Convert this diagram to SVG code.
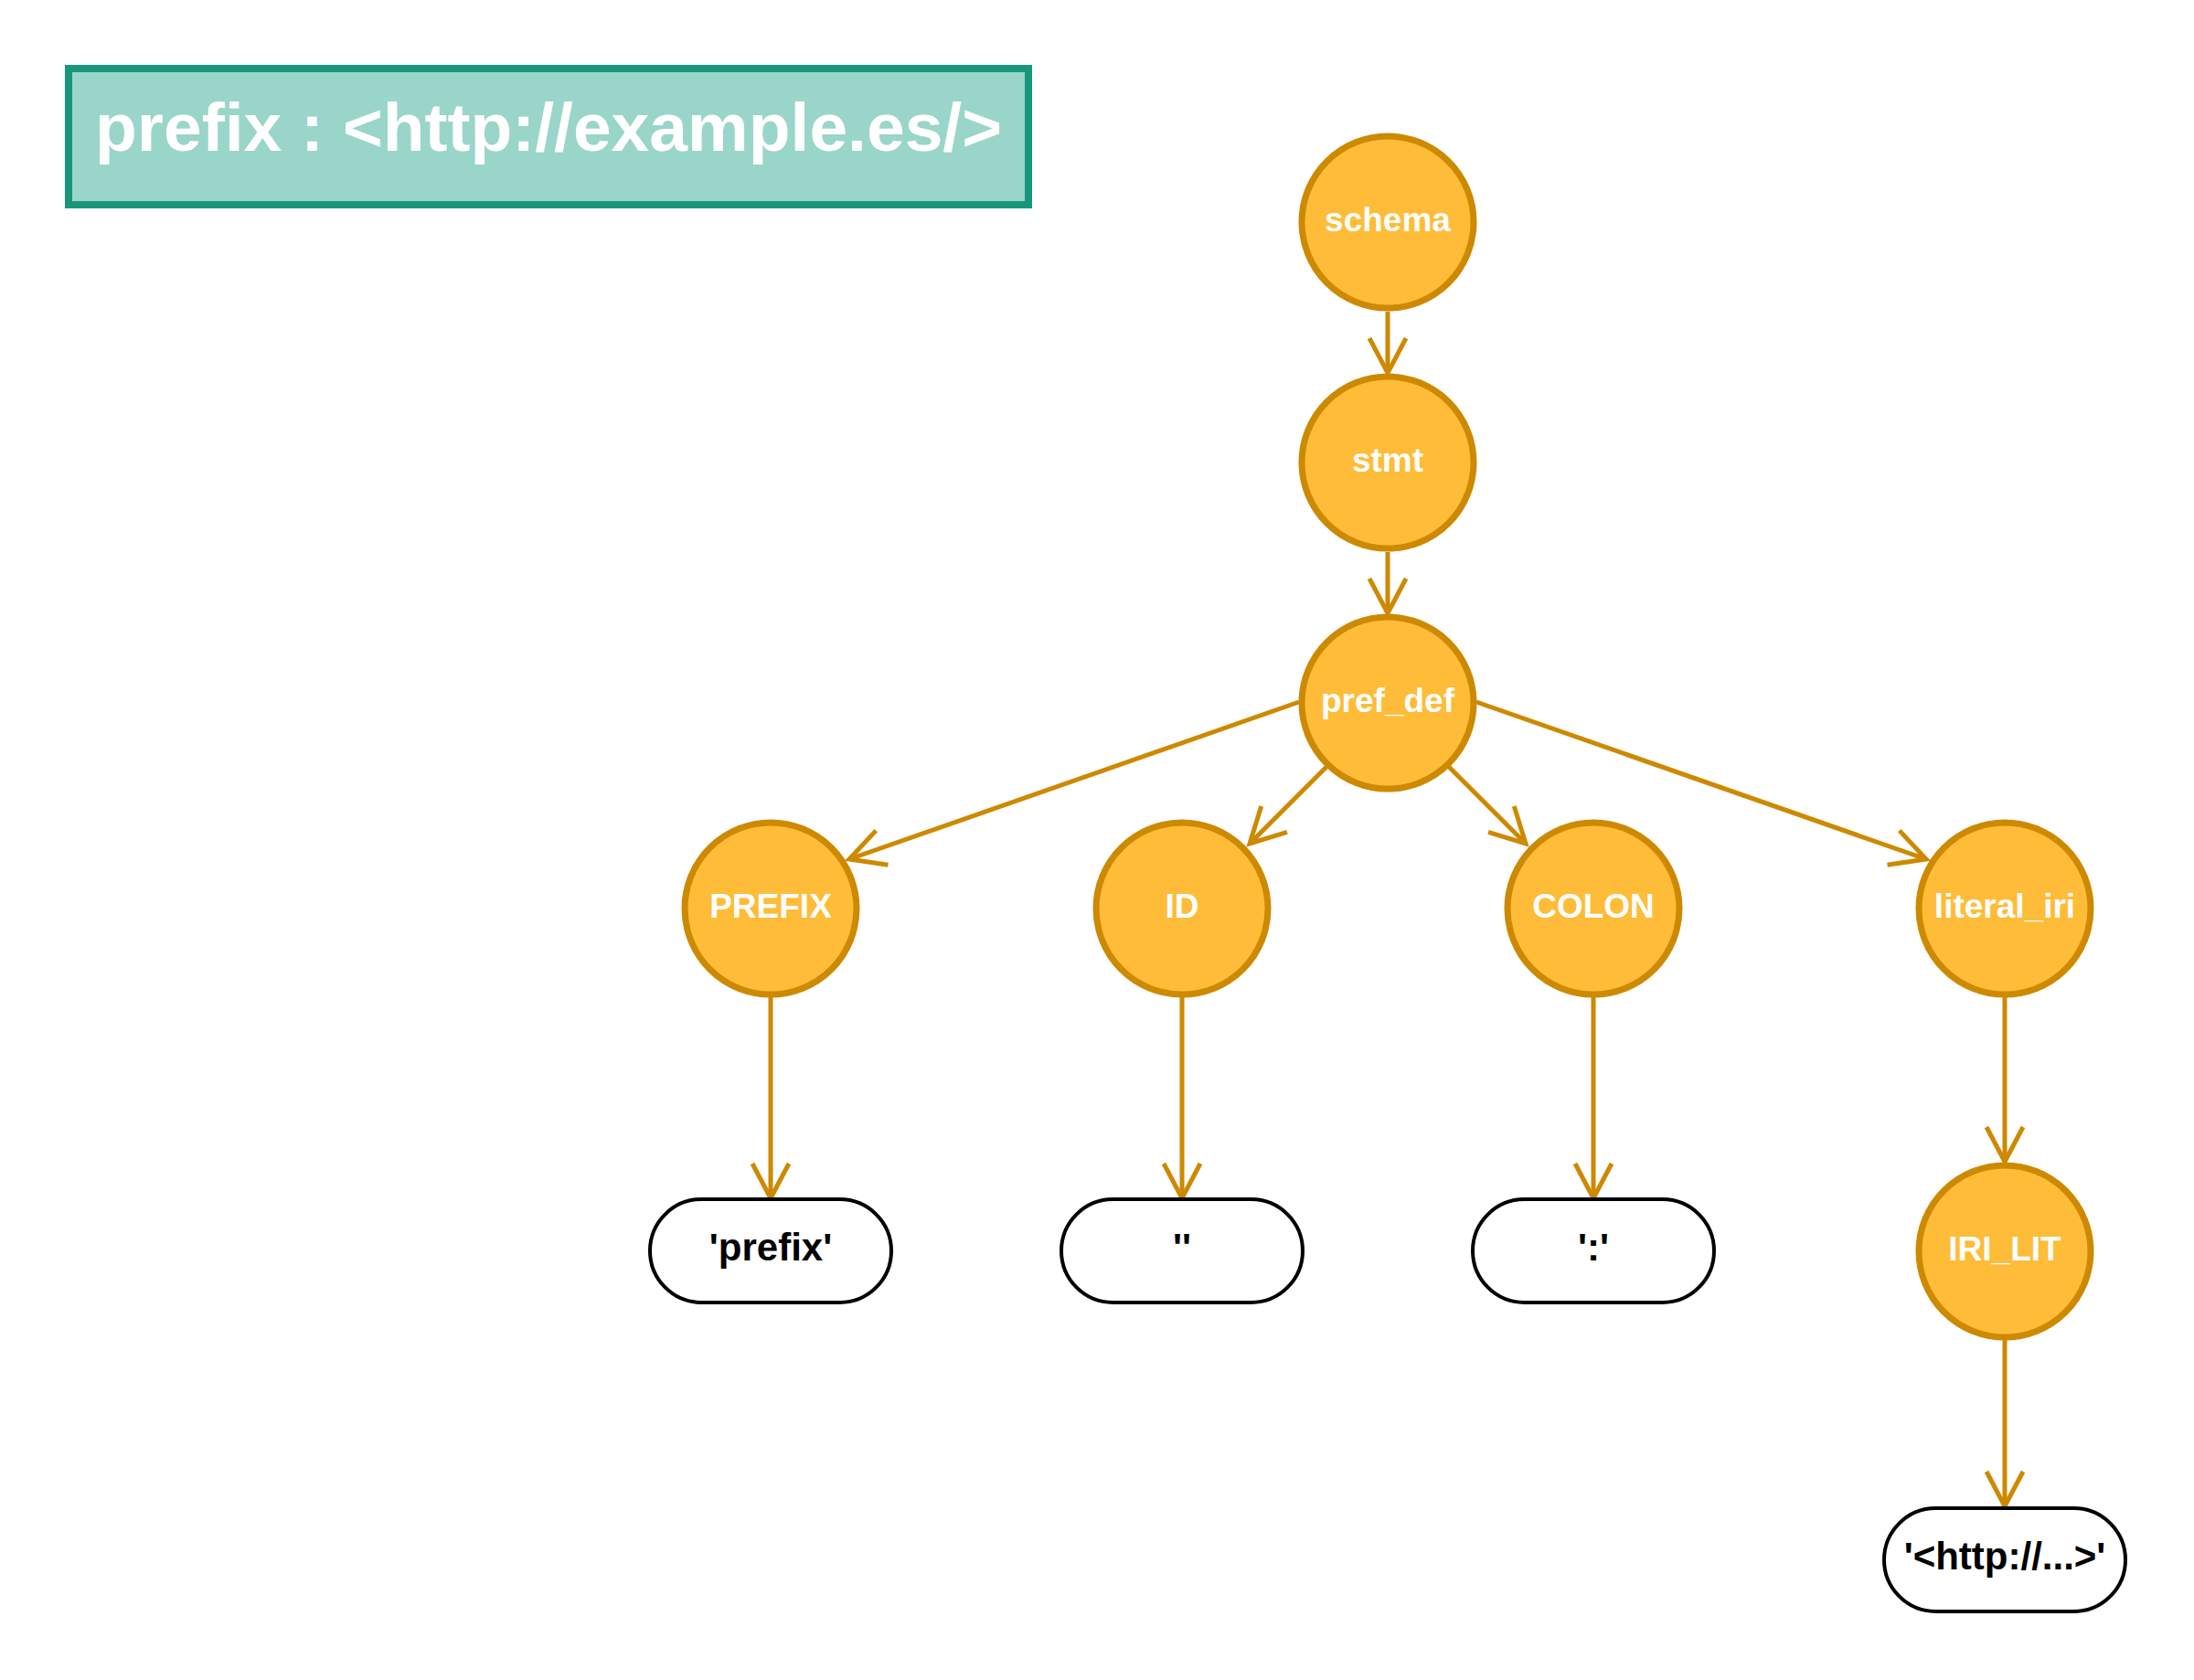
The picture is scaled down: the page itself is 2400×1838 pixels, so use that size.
<svg xmlns="http://www.w3.org/2000/svg" width="2400" height="1838" viewBox="0 0 2400 1838">
<style>
.nd circle{fill:#FEBC38;stroke:#CD8900;stroke-width:7}
.nd text{font-family:"Liberation Sans",Arial,sans-serif;font-weight:bold;font-size:37px;fill:#ffffff;text-anchor:middle}
.lf rect{fill:#ffffff;stroke:#000000;stroke-width:4}
.lf text{font-family:"Liberation Sans",Arial,sans-serif;font-weight:bold;font-size:42px;fill:#000000;text-anchor:middle}
.ed line{stroke:#CD8900;stroke-width:5;fill:none;marker-end:url(#arr)}
</style>
<defs>
<marker id="arr" markerUnits="userSpaceOnUse" viewBox="-50 -30 60 60" markerWidth="60" markerHeight="60" refX="0" refY="0" orient="auto">
<path d="M -38 -20 L 0 0 L -38 20" fill="none" stroke="#CD8900" stroke-width="5"/>
</marker>
</defs>
<rect width="2400" height="1838" fill="#ffffff"/>
<g id="title">
<rect x="75" y="75" width="1050" height="149" fill="#9AD5CA" stroke="#18967C" stroke-width="8"/>
<text x="600" y="165" font-family="Liberation Sans,Arial,sans-serif" font-weight="bold" font-size="75" fill="#ffffff" text-anchor="middle">prefix : &lt;http://example.es/&gt;</text>
</g>
<g id="connectors" class="ed">
<line x1="1518" y1="341" x2="1518" y2="408"/>
<line x1="1518" y1="604" x2="1518" y2="671"/>
<line x1="1421" y1="768" x2="929" y2="940"/>
<line x1="1451" y1="839" x2="1367" y2="923"/>
<line x1="1585" y1="839" x2="1669" y2="923"/>
<line x1="1615" y1="768" x2="2107" y2="940"/>
<line x1="843" y1="1091" x2="843" y2="1311"/>
<line x1="1293" y1="1091" x2="1293" y2="1311"/>
<line x1="1743" y1="1091" x2="1743" y2="1311"/>
<line x1="2193" y1="1091" x2="2193" y2="1271"/>
<line x1="2193" y1="1466" x2="2193" y2="1648"/>
</g>
<g id="schema" class="nd"><circle cx="1518" cy="243" r="94"/><text x="1518" y="253">schema</text></g>
<g id="stmt" class="nd"><circle cx="1518" cy="506" r="94"/><text x="1518" y="516">stmt</text></g>
<g id="pref_def" class="nd"><circle cx="1518" cy="769" r="94"/><text x="1518" y="779">pref_def</text></g>
<g id="PREFIX" class="nd"><circle cx="843" cy="994" r="94"/><text x="843" y="1004">PREFIX</text></g>
<g id="ID" class="nd"><circle cx="1293" cy="994" r="94"/><text x="1293" y="1004">ID</text></g>
<g id="COLON" class="nd"><circle cx="1743" cy="994" r="94"/><text x="1743" y="1004">COLON</text></g>
<g id="literal_iri" class="nd"><circle cx="2193" cy="994" r="94"/><text x="2193" y="1004">literal_iri</text></g>
<g id="IRI_LIT" class="nd"><circle cx="2193" cy="1369" r="94"/><text x="2193" y="1379">IRI_LIT</text></g>
<g id="leaf_prefix" class="lf"><rect x="711" y="1312" width="264" height="113" rx="56.5"/><text x="843" y="1379">'prefix'</text></g>
<g id="leaf_id" class="lf"><rect x="1161" y="1312" width="264" height="113" rx="56.5"/><text x="1293" y="1379">''</text></g>
<g id="leaf_colon" class="lf"><rect x="1611" y="1312" width="264" height="113" rx="56.5"/><text x="1743" y="1379">':'</text></g>
<g id="leaf_iri" class="lf"><rect x="2061" y="1650" width="264" height="113" rx="56.5"/><text x="2193" y="1717">'&lt;http://...&gt;'</text></g>
</svg>
